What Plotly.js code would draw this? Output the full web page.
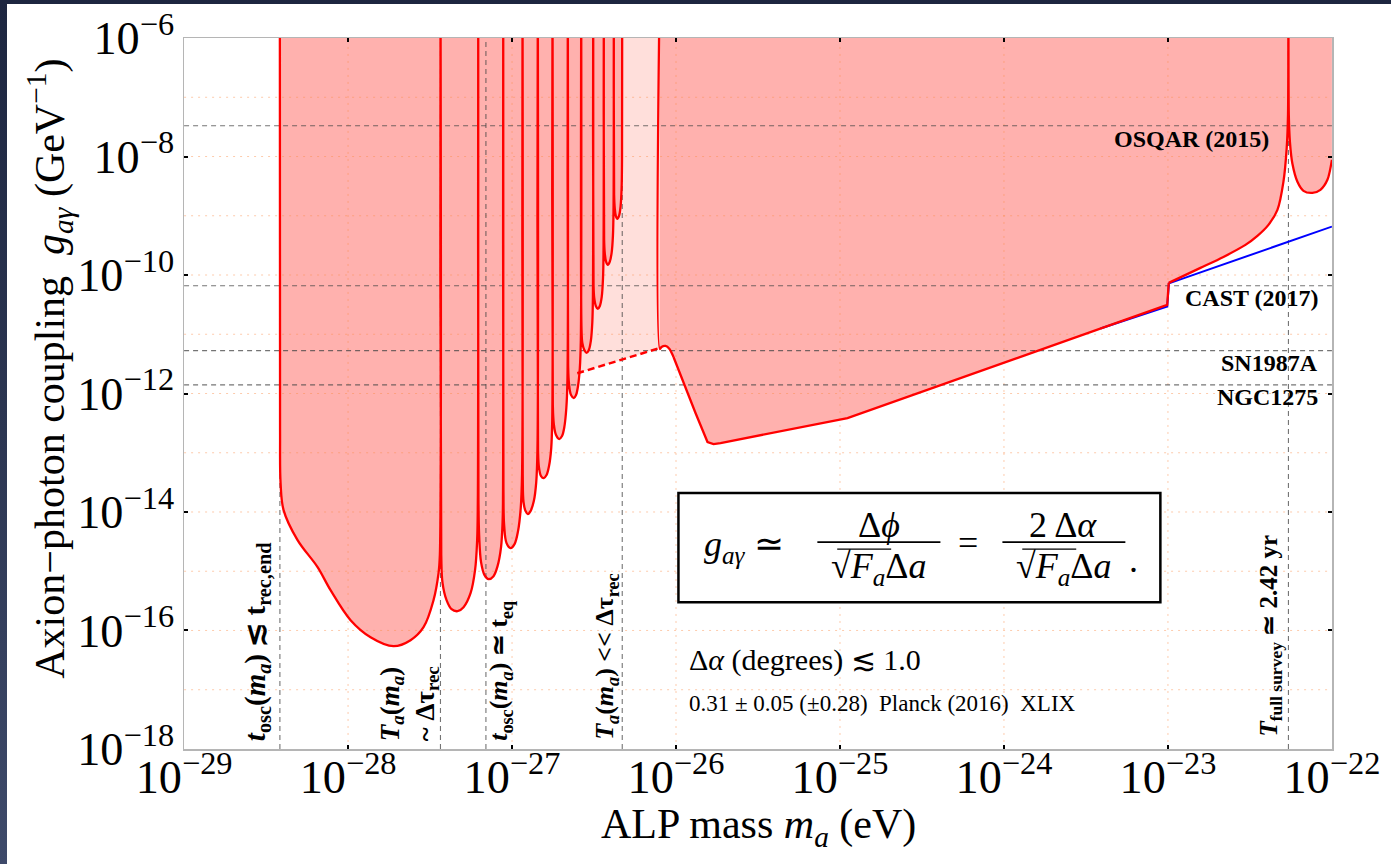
<!DOCTYPE html>
<html><head><meta charset="utf-8">
<script src="https://cdn.plot.ly/plotly-3.0.1.min.js"></script>
<style>
html,body{margin:0;padding:0;width:1391px;height:864px;overflow:hidden;background:linear-gradient(180deg,#1d2640 0%,#2c3652 50%,#3e4a6a 100%);}
#chart{position:absolute;left:7px;top:4px;width:1384px;height:860px;background:#fff;}
</style></head><body><div id="chart"></div><script>
// ---- Data (mass in eV, coupling in GeV^-1). 1e-5 marks a pole above the axis.
const leftMassX = [
 3.837e-29,3.848e-29,3.877e-29,4.043e-29,4.921e-29,6.517e-29,7.821e-29,1.036e-28,1.371e-28,1.894e-28,2.405e-28,2.886e-28,3.321e-28,3.563e-28,3.629e-28,3.665e-28,
 3.701e-28,3.769e-28,3.987e-28,4.277e-28,4.653e-28,5.062e-28,5.585e-28,5.949e-28,6.127e-28,6.187e-28,6.222e-28,
 6.239e-28,6.301e-28,6.472e-28,6.797e-28,7.190e-28,7.713e-28,8.158e-28,8.570e-28,8.764e-28,8.814e-28,8.838e-28,
 8.863e-28,8.950e-28,9.257e-28,9.792e-28,1.0357e-27,1.0879e-27,1.1300e-27,1.1508e-27,1.1589e-27,
 1.1622e-27,1.1753e-27,1.2088e-27,1.2484e-27,1.2967e-27,1.3581e-27,1.4047e-27,1.4286e-27,1.4366e-27,
 1.4406e-27,1.4590e-27,1.5026e-27,1.5629e-27,1.6233e-27,1.6812e-27,1.7340e-27,1.7585e-27,1.7659e-27,
 1.7734e-27,1.7984e-27,1.8548e-27,1.9401e-27,2.0179e-27,2.0841e-27,2.1435e-27,2.1768e-27,2.1891e-27,
 2.1983e-27,2.2263e-27,2.2897e-27,2.3815e-27,2.4562e-27,2.5262e-27,2.5908e-27,2.6274e-27,2.6423e-27,
 2.6534e-27,2.6834e-27,2.7599e-27,2.8464e-27,2.9399e-27,3.0236e-27,3.0879e-27,3.1140e-27,3.1272e-27,
 3.1404e-27,3.1714e-27,3.2435e-27,3.3358e-27,3.4308e-27,3.5236e-27,3.5885e-27,3.6138e-27,3.6290e-27,
 3.6443e-27,3.6803e-27,3.7481e-27,3.8386e-27,3.9424e-27,4.0490e-27,4.1236e-27,4.1585e-27,4.1760e-27,
 4.1936e-27,4.2291e-27,4.2949e-27,4.3863e-27,4.4923e-27,4.5944e-27,4.6593e-27,4.6856e-27,4.6988e-27
];
const leftCouplingY = [
 1e-5,2.418e-13,3.078e-14,1.077e-14,3.352e-15,1.173e-15,4.794e-16,1.493e-16,7.705e-17,5.43e-17,6.858e-17,1.137e-16,3.249e-16,9.288e-16,1.871e-15,1e-5,
 1.871e-15,6.295e-16,3.249e-16,2.289e-16,2.118e-16,2.475e-16,4.267e-16,1.044e-15,3.352e-15,1.589e-14,1e-5,
 1.589e-14,4.072e-15,1.424e-15,8.593e-16,7.355e-16,8.265e-16,1.219e-15,2.553e-15,7.298e-15,2.344e-14,1e-5,
 2.344e-14,6.008e-15,2.984e-15,2.456e-15,2.870e-15,4.757e-15,1.164e-14,4.201e-14,1e-5,
 4.201e-14,1.470e-14,1.036e-14,9.215e-15,1.036e-14,1.528e-14,3.200e-14,1.111e-13,1e-5,
 1.111e-13,5.732e-14,4.040e-14,3.737e-14,4.201e-14,5.961e-14,1.200e-13,3.568e-13,1e-5,
 6.393e-13,3.053e-13,1.991e-13,1.704e-13,1.915e-13,2.718e-13,5.690e-13,1.690e-12,1e-5,
 3.030e-12,1.447e-12,9.434e-13,8.395e-13,9.434e-13,1.339e-12,2.696e-12,8.012e-12,1e-5,
 1.182e-11,7.129e-12,5.429e-12,4.832e-12,5.429e-12,7.705e-12,1.614e-11,4.613e-11,1e-5,
 6.805e-11,4.104e-11,3.006e-11,2.676e-11,3.006e-11,4.267e-11,8.933e-11,2.655e-10,1e-5,
 3.916e-10,2.272e-10,1.665e-10,1.481e-10,1.665e-10,2.362e-10,4.576e-10,1.360e-9,1e-5,
 2.254e-9,1.360e-9,9.961e-10,8.863e-10,9.961e-10,1.470e-9,2.960e-9,8.796e-9,1e-5
];
const rightMassX = [7.965e-27,7.970e-27,8.158e-27,8.629e-27,9.128e-27,9.655e-27,1.111e-26,1.315e-26,1.556e-26,1.693e-26,1.868e-26,1.111e-25,9.902e-24,1.011e-23,1.578e-23,2.180e-23,2.969e-23,3.513e-23,4.101e-23,4.652e-23,5.061e-23,5.300e-23,5.398e-23,5.428e-23,5.458e-23,5.545e-23,5.743e-23,6.161e-23,6.703e-23,7.605e-23,8.508e-23,9.388e-23,1e-22];
const rightCouplingY = [1e-5,5.645e-12,6.103e-12,6.344e-12,5.645e-12,4.136e-12,1.504e-12,4.683e-13,1.516e-13,1.403e-13,1.458e-13,3.856e-13,3.125e-11,7.355e-11,1.318e-10,2.021e-10,3.224e-10,4.576e-10,7.021e-10,1.258e-9,3.737e-9,1.403e-8,5.062e-8,1e-5,5.062e-8,1.772e-8,7.528e-9,3.737e-9,2.634e-9,2.437e-9,2.738e-9,4.040e-9,8.796e-9];
const blueMassX = [3.877e-24,9.902e-24,1.014e-23,1e-22];
const blueCouplingY = [1.248e-11,2.948e-11,7.213e-11,6.572e-10];
const dashMassX = [2.498e-27,7.970e-27];
const dashCouplingY = [2.193e-12,5.870e-12];
const boundNames = ['OSQAR (2015)','CAST (2017)','SN1987A','NGC1275'];
const boundCouplingY = [3.3e-8,6.6e-11,5.3e-12,1.4e-12];
const markMassX = [3.84e-29,3.66e-28,6.93e-28,4.70e-27,5.43e-23];
const gridMassX = [1e-28,1e-27,1e-26,1e-25,1e-24,1e-23];
const gridCouplingY = [1e-17,1e-16,1e-15,1e-14,1e-13,1e-12,1e-11,1e-10,1e-9,1e-8,1e-7];
const X_RANGE = [1e-29,1e-22], Y_RANGE = [1e-18,1e-6];
const POLE = 1e-5;
// ----
const SERIF = 'Liberation Serif, Times New Roman, serif';
const DARK = 'rgb(255,177,174)', LIGHT = 'rgb(255,223,219)';
const traces = [];
const base = {mode:'lines', hoverinfo:'skip', showlegend:false};
traces.push(Object.assign({}, base, {x:[dashMassX[0],dashMassX[1],dashMassX[1],dashMassX[0]], y:[dashCouplingY[0],dashCouplingY[1],POLE,POLE], fill:'toself', fillcolor:LIGHT, line:{width:0}}));
traces.push(Object.assign({}, base, {x:leftMassX, y:leftCouplingY, fill:'toself', fillcolor:DARK, line:{width:0, shape:'spline', smoothing:1}}));
traces.push(Object.assign({}, base, {x:rightMassX.concat([rightMassX[rightMassX.length-1]]), y:rightCouplingY.concat([POLE]), fill:'toself', fillcolor:DARK, line:{width:0}}));
// grid
let gx=[], gy=[];
gridMassX.forEach(v=>{gx.push(v,v,null); gy.push(Y_RANGE[0],Y_RANGE[1],null);});
gridCouplingY.forEach(v=>{gx.push(X_RANGE[0],X_RANGE[1],null); gy.push(v,v,null);});
traces.push(Object.assign({}, base, {x:gx, y:gy, line:{color:'rgba(250,140,70,0.45)', width:1, dash:'2px,5px'}}));
// reference dashed lines
let hx=[], hy=[];
boundCouplingY.forEach(v=>{hx.push(X_RANGE[0],X_RANGE[1],null); hy.push(v,v,null);});
markMassX.forEach(v=>{hx.push(v,v,null); hy.push(Y_RANGE[0],Y_RANGE[1],null);});
traces.push(Object.assign({}, base, {x:hx, y:hy, line:{color:'rgba(70,70,70,0.75)', width:1.1, dash:'5px,4px'}}));
traces.push(Object.assign({}, base, {x:blueMassX, y:blueCouplingY, line:{color:'#0000ff', width:2}}));
traces.push(Object.assign({}, base, {x:dashMassX, y:dashCouplingY, line:{color:'#ff0000', width:2.5, dash:'7px,4px'}}));
traces.push(Object.assign({}, base, {x:leftMassX, y:leftCouplingY, line:{color:'#ff0000', width:2.3, shape:'spline', smoothing:1}}));
// right boundary drawn in three pieces: smooth bump, straight part with the step, smooth rise to the resonance
const seg = (a,b,shape,sm)=>Object.assign({}, base, {x:rightMassX.slice(a,b), y:rightCouplingY.slice(a,b), line:{color:'#ff0000', width:2.3, shape:shape, smoothing:sm}});
traces.push(seg(0,6,'spline',0.8));
traces.push(seg(5,14,'linear',0));
traces.push(seg(13,rightMassX.length,'spline',0.8));

const PL=176.5, PR=59.3, PT=34.3, PB=115.3;
const axisCommon = {type:'log', showline:true, linecolor:'#b5b5b5', linewidth:1.5, mirror:'ticks', ticks:'inside', ticklen:4, tickwidth:2, tickcolor:'#000', showgrid:false, zeroline:false, exponentformat:'power', tickfont:{family:SERIF, size:37, color:'#000'}};
const layout = {
  width:1384, height:860, margin:{l:PL, r:PR, t:PT, b:PB, pad:0},
  paper_bgcolor:'#fff', plot_bgcolor:'#fff', showlegend:false, hovermode:false,
  xaxis:Object.assign({}, axisCommon, {range:[Math.log10(X_RANGE[0])-0.0005, Math.log10(X_RANGE[1])+0.0005], dtick:1, ticklabelstandoff:-11}),
  yaxis:Object.assign({}, axisCommon, {range:[Math.log10(Y_RANGE[0])-0.0005, Math.log10(Y_RANGE[1])+0.0005], dtick:2, ticklabelstandoff:1}),
  shapes:[
    {type:'rect', xref:'paper', yref:'paper', x0:0.4307, x1:0.8505, y0:0.2065, y1:0.3599, line:{color:'#000', width:2.5}, fillcolor:'#fff', layer:'above'},
    {type:'line', xref:'paper', yref:'paper', x0:0.5517, x1:0.6589, y0:0.2910, y1:0.2910, line:{color:'#000', width:1.6}, layer:'above'},
    {type:'line', xref:'paper', yref:'paper', x0:0.7129, x1:0.8200, y0:0.2910, y1:0.2910, line:{color:'#000', width:1.6}, layer:'above'},
    {type:'line', xref:'paper', yref:'paper', x0:0.5690, x1:0.6160, y0:0.2811, y1:0.2811, line:{color:'#000', width:1.4}, layer:'above'},
    {type:'line', xref:'paper', yref:'paper', x0:0.7302, x1:0.7772, y0:0.2811, y1:0.2811, line:{color:'#000', width:1.4}, layer:'above'}
  ],
  annotations:[]
};
const A = layout.annotations;
function ann(o){ A.push(Object.assign({xref:'paper', yref:'paper', showarrow:false, borderpad:0}, o)); }
ann({text:'Axion\u2212photon coupling\u00a0\u00a0<i>g</i><sub><i>a\u03b3</i></sub> (GeV<sup>\u22121</sup>)', x:-0.1175, y:0.535, xanchor:'center', yanchor:'middle', textangle:-90, font:{family:SERIF, size:42, color:'#000'}});
ann({text:'ALP mass <i>m<sub>a</sub></i> (eV)', x:0.5, y:-0.1095, xanchor:'center', yanchor:'middle', font:{family:SERIF, size:42, color:'#000'}});
const vf = s=>({family:SERIF, size:s, color:'#000'});
ann({text:'<b><i>t</i><sub>osc</sub>(<i>m<sub>a</sub></i>) \u2272 t<sub>rec,end</sub></b>', x:0.0630, y:0.0094, xanchor:'center', yanchor:'bottom', textangle:-90, font:vf(29)});
ann({text:'<b><i>T<sub>a</sub></i>(<i>m<sub>a</sub></i>)</b><br><b>~ \u0394\u03c4<sub>rec</sub></b>', x:0.1964, y:0.0094, xanchor:'center', yanchor:'bottom', textangle:-90, align:'left', font:vf(27)});
ann({text:'<b><i>t</i><sub>osc</sub>(<i>m<sub>a</sub></i>) \u2243 t<sub>eq</sub></b>', x:0.2757, y:0.0094, xanchor:'center', yanchor:'bottom', textangle:-90, font:vf(26)});
ann({text:'<b><i>T<sub>a</sub></i>(<i>m<sub>a</sub></i>) &lt;&lt; \u0394\u03c4<sub>rec</sub></b>', x:0.3680, y:0.0122, xanchor:'center', yanchor:'bottom', textangle:-90, font:vf(26)});
ann({text:'<b><i>T</i><sub>full survey</sub> \u2243 2.42 yr</b>', x:0.9463, y:0.0165, xanchor:'center', yanchor:'bottom', textangle:-90, font:vf(25)});
const rf2 = {family:SERIF, size:24, color:'#000'};
const rx = [0.9463,0.9898,0.9889,0.9889], ry=[0.8583,0.6344,0.5429,0.4951];
boundNames.forEach((n,i)=>ann({text:'<b>'+n+'</b>', x:rx[i], y:ry[i], xanchor:'right', yanchor:'middle', font:rf2}));
const mf = {family:SERIF, size:36, color:'#000'};
ann({text:'<i>g</i><sub><i>a\u03b3</i></sub> \u2243', x:0.4525, y:0.2850, xanchor:'left', yanchor:'middle', font:mf});
ann({text:'\u0394<i>\u03d5</i>', x:0.6053, y:0.3149, xanchor:'center', yanchor:'middle', font:mf});
ann({text:'\u221a<i>F<sub>a</sub></i>\u0394<i>a</i>', x:0.6053, y:0.2543, xanchor:'center', yanchor:'middle', font:mf});
ann({text:'=', x:0.6828, y:0.2896, xanchor:'center', yanchor:'middle', font:mf});
ann({text:'2\u2009\u0394<i>\u03b1</i>', x:0.7660, y:0.3149, xanchor:'center', yanchor:'middle', font:mf});
ann({text:'\u221a<i>F<sub>a</sub></i>\u0394<i>a</i>', x:0.7662, y:0.2543, xanchor:'center', yanchor:'middle', font:mf});
ann({text:'.', x:0.8269, y:0.2656, xanchor:'center', yanchor:'middle', font:mf});
ann({text:'\u0394<i>\u03b1</i> (degrees) \u2272 1.0', x:0.4394, y:0.1249, xanchor:'left', yanchor:'middle', font:{family:SERIF, size:30, color:'#000'}});
ann({text:'0.31 \u00b1 0.05 (\u00b10.28)\u00a0\u00a0Planck (2016)\u00a0\u00a0XLIX', x:0.4394, y:0.0643, xanchor:'left', yanchor:'middle', font:{family:SERIF, size:23, color:'#000'}});

Plotly.newPlot('chart', traces, layout, {staticPlot:true, displayModeBar:false});
</script></body></html>
